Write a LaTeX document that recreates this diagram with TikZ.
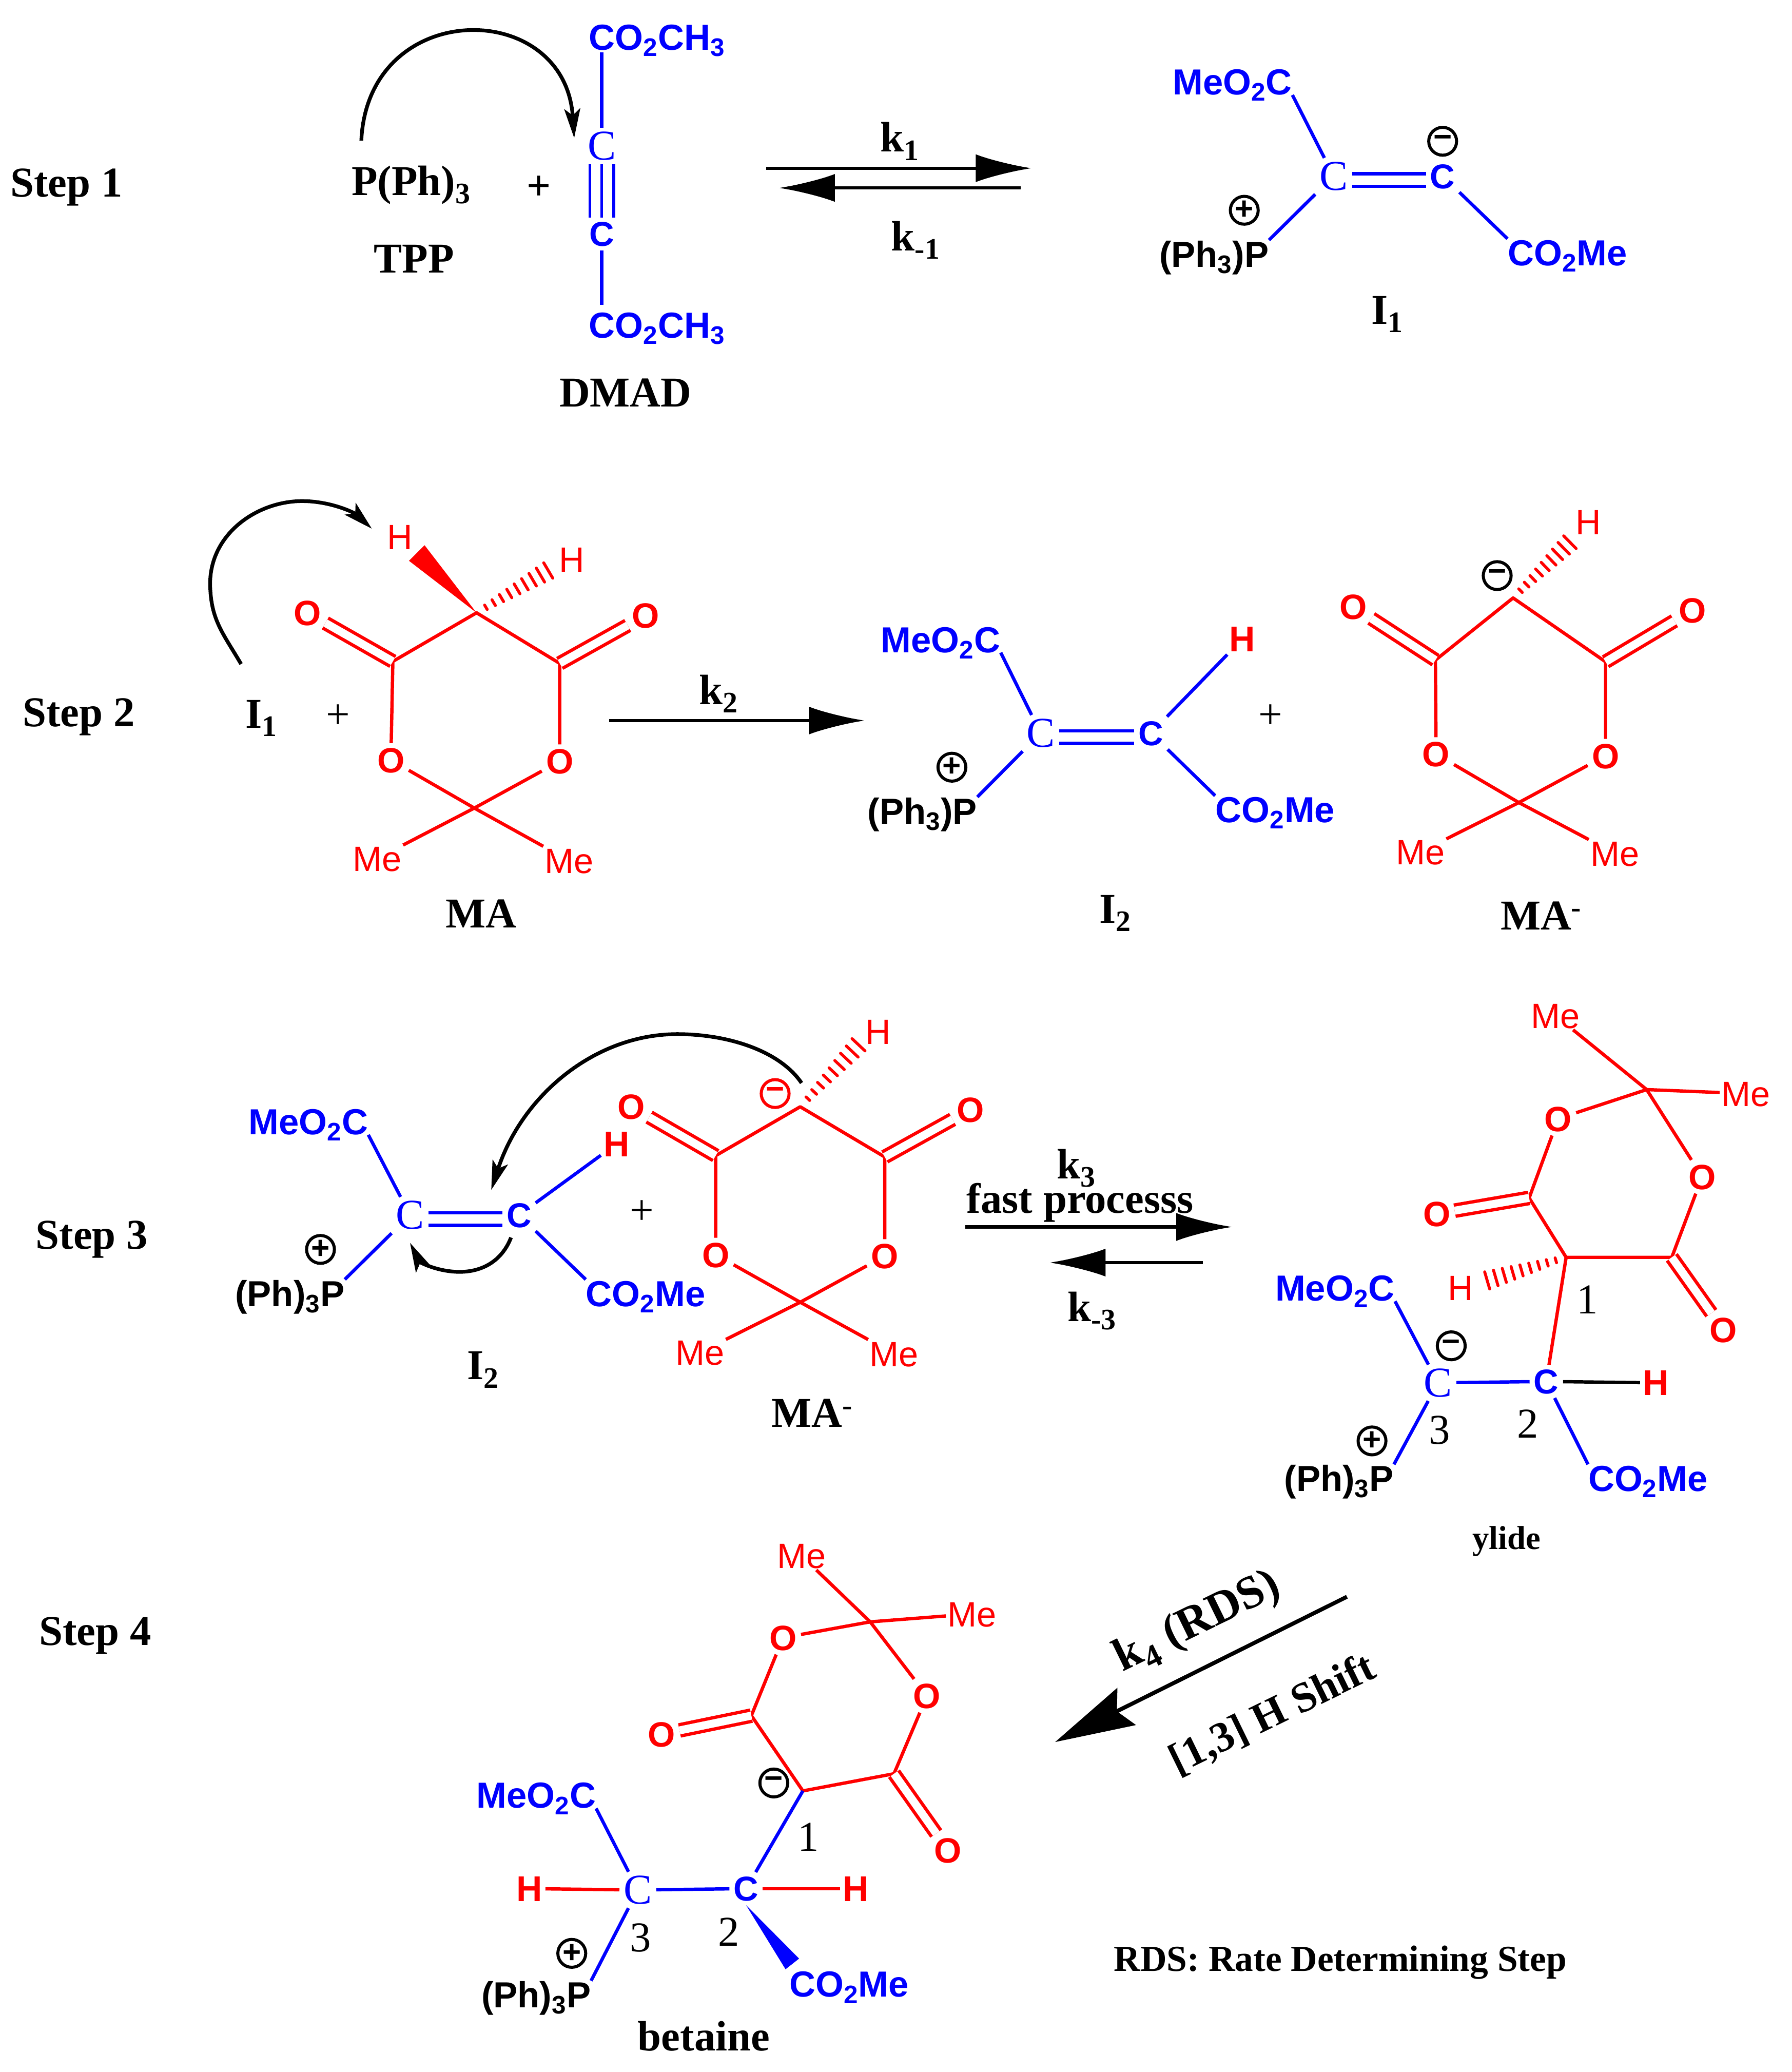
\documentclass[tikz,border=0pt]{standalone}
\usepackage{fontspec}
\setmainfont{Liberation Serif}
\setsansfont{Liberation Sans}
\usetikzlibrary{arrows.meta,calc}
\newcommand{\fz}[1]{\fontsize{#1}{#1}\selectfont}
\newcommand{\hashb}[2]{\foreach \t in {0.12,0.22,...,1.0} {\draw[red,line width=2.2pt,line cap=round] ($(#1)!\t!(#2)!{(1.2+\t*6)*1pt}!90:(#2)$) -- ($(#1)!\t!(#2)!{(1.2+\t*6)*1pt}!-90:(#2)$);}}
\newcommand{\wedgeb}[4]{\fill[#1] (#2) -- ($(#3)!#4!90:(#2)$) -- ($(#3)!#4!-90:(#2)$) -- cycle;}
\tikzset{
  lab/.style={font=\fz{32}\bfseries,inner sep=0pt,text height=21pt,text depth=0pt},
  grp/.style={text=blue,font=\fz{27.3}\sffamily\bfseries,inner sep=0pt,text height=20pt,text depth=0pt},
  blk/.style={grp,text=black},
  car/.style={text=blue,font=\fz{32},inner sep=3pt,text height=21pt,text depth=0pt},
  cbd/.style={text=blue,font=\fz{26}\sffamily\bfseries,inner sep=3pt,text height=18.5pt,text depth=0pt},
  oxy/.style={text=red,font=\fz{26.5}\sffamily\bfseries,inner sep=3pt,text height=19pt,text depth=0pt},
  hyd/.style={text=red,font=\fz{26.5}\sffamily,inner sep=2pt,text height=19pt,text depth=0pt},
  hyb/.style={hyd,font=\fz{27}\sffamily\bfseries},
  mee/.style={hyd,inner sep=1pt},
  num/.style={font=\fz{32},inner sep=0pt,text height=21pt,text depth=0pt},
  pls/.style={font=\fz{32},inner sep=0pt},
  chg/.style={circle,draw,line width=2.3pt,minimum size=21pt,inner sep=0pt,font=\fz{24}\sffamily\bfseries},
  bbd/.style={blue,line width=2.5pt},
  rbd/.style={red,line width=2.5pt,line join=round},
  dbl/.style={double,double distance=7pt,line width=2.5pt},
  rdb/.style={red,double,double distance=6pt,line width=2.5pt},
  rxn/.style={line width=2.4pt,-{Latex[length=42pt,width=21pt]}},
  cur/.style={line width=2.8pt,-{Stealth[length=22pt,width=12pt,inset=5pt]}}
}
\begin{document}
\begin{tikzpicture}[x=1pt,y=-1pt]
  \useasboundingbox (0,0) rectangle (1350,1561);

  % Step 1
  \begin{scope}[x=0.99pt,y=-0.99pt]
  \node[lab] (st1) at (50.5,139) {Step 1};
  \node[lab] (tpp) at (313,138) {P(Ph)\textsubscript{3}};
  \node[lab] (tppn) at (315,197) {TPP};
  \node[pls] (pl1) at (410,143) {\textbf{+}};
  \node[grp] (dt) at (500,28) {CO\textsubscript{2}CH\textsubscript{3}};
  \node[grp] (db) at (500,247) {CO\textsubscript{2}CH\textsubscript{3}};
  \node[car] (c1t) at (458,111) {C};
  \node[cbd] (c1b) at (458,178) {C};
  \node[lab] (dmad) at (476,299) {DMAD};
  \coordinate (ar1s) at (275,107);
  \coordinate (ar1e) at (437,105);
  \draw[bbd] (458,40) -- (c1t);
  \draw[bbd] (c1b) -- (458,232);
  \foreach \dx in {-9,0,9} {\draw[blue,line width=2pt] ([xshift=\dx pt]c1t.south) -- ([xshift=\dx pt]c1b.north);}
  \draw[cur] (ar1s) .. controls (280,-2) and (430,-2) .. (ar1e);
  \coordinate (eq1a) at (583,128);
  \coordinate (eq1b) at (785,128);
  \coordinate (eq1c) at (777,143);
  \coordinate (eq1d) at (593,143);
  \draw[rxn] (eq1a) -- (eq1b);
  \draw[rxn] (eq1c) -- (eq1d);
  \node[lab] (k1) at (685,105) {k\textsubscript{1}};
  \node[lab] (km1) at (697,180) {k\textsubscript{-1}};

  % I1
  \node[grp] (mo1) at (938,62) {MeO\textsubscript{2}C};
  \node[car] (ca1) at (1015,134) {C};
  \node[cbd] (cb1) at (1098,134) {C};
  \node[blk] (ph1) at (924,193) {(Ph\textsubscript{3})P};
  \node[grp] (co1) at (1193,192) {CO\textsubscript{2}Me};
  \node[chg] (mi1) at (1098,107.5) {−};
  \node[chg] (pl1c) at (947,160) {+};
  \node[lab] (i1) at (1056,236) {I\textsubscript{1}};
  \draw[bbd] (mo1.south east) -- (ca1);
  \draw[bbd] (ph1.north east) -- (ca1);
  \draw[bbd] (cb1) -- (co1.north west);
  \draw[blue,dbl] ([yshift=-3pt]ca1.east) -- ([yshift=-3pt]cb1.west);
  \end{scope}

  % Step 2
  \begin{scope}[x=0.99pt,y=-0.99pt,yshift=-2.3pt]
  \node[lab] (st2) at (60,540) {Step 2};
  \node[lab] (i1b) at (199,541) {I\textsubscript{1}};
  \node[pls] (pl2) at (257.5,543) {+};
  \coordinate (ar2s) at (183.5,503);
  \coordinate (ar2e) at (283,400);
  \draw[cur] (ar2s) .. controls (170,480) and (161,470) .. (160,445) .. controls (158,405) and (195,379) .. (230,379) .. controls (252,379) and (270,388) .. (ar2e);
  % MA
  \coordinate (ma) at (362.7,464);
  \coordinate (mal) at (299,501);
  \coordinate (mar) at (426,502.5);
  \coordinate (mab) at (361,612.6);
  \node[oxy] (mao1) at (234,464) {O};
  \node[oxy] (mao2) at (491.4,466) {O};
  \node[oxy] (mao3) at (297.5,576) {O};
  \node[oxy] (mao4) at (426,577) {O};
  \node[hyd] (mah1) at (304.4,406) {H};
  \node[hyd] (mah2) at (435,423.5) {H};
  \node[mee] (mam1) at (287,651) {Me};
  \node[mee] (mam2) at (433,652.5) {Me};
  \node[lab] (man) at (366,693) {MA};
  \coordinate (mawe) at (317.2,418.5);
  \coordinate (mahe) at (422,429);
  \draw[rbd] (mao3) -- (mal) -- (ma) -- (mar) -- (mao4);
  \draw[rbd] (mao3) -- (mab) -- (mam2);
  \draw[rbd] (mao4) -- (mab) -- (mam1);
  \draw[rdb] (mao1) -- (mal);
  \draw[rdb] (mao2) -- (mar);
  \wedgeb{red}{ma}{mawe}{8.3pt}
  \hashb{ma}{mahe}
  \coordinate (rx2a) at (463.6,546);
  \coordinate (rx2b) at (658,546);
  \draw[rxn] (rx2a) -- (rx2b);
  \node[lab] (k2) at (547,523) {k\textsubscript{2}};

  % I2
  \node[grp] (mo2) at (716,484) {MeO\textsubscript{2}C};
  \node[car] (ca2) at (792,555.6) {C};
  \node[cbd] (cb2) at (876,555.6) {C};
  \node[hyb] (hb2) at (945.5,484) {H};
  \node[blk] (ph2) at (702,614.5) {(Ph\textsubscript{3})P};
  \node[grp] (co2) at (970.5,613.5) {CO\textsubscript{2}Me};
  \node[chg] (pl2c) at (724.5,581.5) {+};
  \node[lab] (i2) at (849,689.5) {I\textsubscript{2}};
  \node[pls] (pl2b) at (967,543) {+};
  \draw[bbd] (mo2.south east) -- (ca2);
  \draw[bbd] (ph2.north east) -- (ca2);
  \draw[bbd] (cb2) -- (hb2);
  \draw[bbd] (cb2) -- (co2.north west);
  \draw[blue,dbl] ([yshift=-3pt]ca2.east) -- ([yshift=-3pt]cb2.west);

  % MA anion
  \coordinate (mb) at (1151.6,452.7);
  \coordinate (mbl) at (1092.5,500);
  \coordinate (mbr) at (1222,501.3);
  \coordinate (mbb) at (1156,608.4);
  \node[oxy] (mbo1) at (1030,459.4) {O};
  \node[oxy] (mbo2) at (1288,462) {O};
  \node[oxy] (mbo3) at (1093,571.5) {O};
  \node[oxy] (mbo4) at (1222,572.8) {O};
  \node[hyd] (mbh) at (1209,395) {H};
  \node[mee] (mbm1) at (1081,646) {Me};
  \node[mee] (mbm2) at (1229,647) {Me};
  \node[chg] (mbc) at (1139.5,435.7) {−};
  \node[lab] (mbn) at (1173,694.5) {MA\textsuperscript{-}};
  \coordinate (mbhe) at (1198.6,406.6);
  \draw[rbd] (mbo3) -- (mbl) -- (mb) -- (mbr) -- (mbo4);
  \draw[rbd] (mbo3) -- (mbb) -- (mbm2);
  \draw[rbd] (mbo4) -- (mbb) -- (mbm1);
  \draw[rdb] (mbo1) -- (mbl);
  \draw[rdb] (mbo2) -- (mbr);
  \hashb{mb}{mbhe}
  \end{scope}

  \begin{scope}[x=0.995pt,y=-0.995pt]
  % Step 3
  \node[lab] (st3) at (69.5,935) {Step 3};
  \node[grp] (mo3) at (233.5,849) {MeO\textsubscript{2}C};
  \node[car] (ca3) at (310.5,920) {C};
  \node[cbd] (cb3) at (393,920) {C};
  \node[hyb] (hb3) at (467,866) {H};
  \node[blk] (ph3) at (219.5,979) {(Ph)\textsubscript{3}P};
  \node[grp] (co3) at (489,979) {CO\textsubscript{2}Me};
  \node[chg] (pl3c) at (242.7,946) {+};
  \node[lab] (i2b) at (366,1034) {I\textsubscript{2}};
  \node[pls] (pl3) at (486,918) {+};
  \draw[bbd] (mo3.south east) -- (ca3);
  \draw[bbd] (ph3.north east) -- (ca3);
  \draw[bbd] (cb3) -- (hb3);
  \draw[bbd] (cb3) -- (co3.north west);
  \draw[blue,dbl] ([yshift=-3pt]ca3.east) -- ([yshift=-3pt]cb3.west);
  \coordinate (ar3s) at (387,937);
  \coordinate (ar3e) at (310.5,941);
  \draw[cur] (ar3s) .. controls (380,955) and (365,963) .. (348,963) .. controls (332,963) and (318,956) .. (ar3e);
  \coordinate (ar4s) at (607,820);
  \coordinate (ar4e) at (372,901);
  \draw[cur] (ar4s) .. controls (590,795) and (550,783) .. (513,783) .. controls (450,783) and (395,830) .. (ar4e);
  % MA anion again
  \coordinate (mc) at (606,838);
  \coordinate (mcl) at (542,875);
  \coordinate (mcr) at (670,876);
  \coordinate (mcb) at (606,986);
  \node[oxy] (mco1) at (478,838) {O};
  \node[oxy] (mco2) at (735,840) {O};
  \node[oxy] (mco3) at (542,950) {O};
  \node[oxy] (mco4) at (670,951) {O};
  \node[hyd] (mch) at (665,781) {H};
  \node[mee] (mcm1) at (530,1024) {Me};
  \node[mee] (mcm2) at (677,1025) {Me};
  \node[chg,draw=red,text=red] (mcc) at (587,828) {−};
  \node[lab] (mcn) at (615,1070) {MA\textsuperscript{-}};
  \coordinate (mche) at (654,787);
  \draw[rbd] (mco3) -- (mcl) -- (mc) -- (mcr) -- (mco4);
  \draw[rbd] (mco3) -- (mcb) -- (mcm2);
  \draw[rbd] (mco4) -- (mcb) -- (mcm1);
  \draw[rdb] (mco1) -- (mcl);
  \draw[rdb] (mco2) -- (mcr);
  \hashb{mc}{mche}
  \coordinate (rx3a) at (731,929);
  \coordinate (rx3b) at (933,929);
  \coordinate (rx3c) at (911,956);
  \coordinate (rx3d) at (795,956);
  \draw[rxn] (rx3a) -- (rx3b);
  \draw[rxn] (rx3c) -- (rx3d);
  \node[lab] (k3) at (815,882) {k\textsubscript{3}};
  \node[lab] (fast) at (818,908) {fast processs};
  \node[lab] (km3) at (827,990) {k\textsubscript{-3}};

  % ylide
  \coordinate (yt) at (1247,825);
  \coordinate (yl) at (1158,907);
  \coordinate (yr) at (1266,952);
  \coordinate (ych) at (1186,952);
  \node[oxy] (yo1) at (1180,847) {O};
  \node[oxy] (yo2) at (1289,891) {O};
  \node[oxy] (yo3) at (1088,919) {O};
  \node[oxy] (yo4) at (1305,1007) {O};
  \node[mee] (ym1) at (1178,769) {Me};
  \node[mee] (ym2) at (1322,828) {Me};
  \node[hyd] (yh) at (1106,975) {H};
  \node[car] (yc3) at (1089,1047) {C};
  \node[cbd] (yc2) at (1171,1046) {C};
  \node[hyb] (yh2) at (1254,1047) {H};
  \node[grp] (ymo) at (1011,975) {MeO\textsubscript{2}C};
  \node[blk] (yph) at (1014,1119) {(Ph)\textsubscript{3}P};
  \node[grp] (yco) at (1248,1119) {CO\textsubscript{2}Me};
  \node[chg] (ymi) at (1099,1019) {−};
  \node[chg] (ypl) at (1039,1091) {+};
  \node[num] (yn1) at (1202,984) {1};
  \node[num] (yn2) at (1157,1078) {2};
  \node[num] (yn3) at (1090,1083) {3};
  \node[lab,font=\fz{25}\bfseries,text height=16pt] (ylb) at (1141,1165) {ylide};
  \coordinate (yhe) at (1121,971);
  \draw[rbd] (yt) -- (yo1) -- (yl) -- (ych) -- (yr) -- (yo2) -- (yt);
  \draw[rbd] (yt) -- (ym1);
  \draw[rbd] (yt) -- (ym2);
  \draw[rdb] (yo3) -- (yl);
  \draw[rdb] (yo4) -- (yr);
  \draw[rbd] (ych) -- (yc2);
  \hashb{ych}{yhe}
  \draw[bbd] (yc3) -- (yc2);
  \draw[line width=2.5pt] (yc2) -- (yh2);
  \draw[bbd] (ymo.south east) -- (yc3);
  \draw[bbd] (yph.north east) -- (yc3);
  \draw[bbd] (yc2) -- (yco.north west);

  % Step 4
  \coordinate (rx4a) at (1020,1209);
  \coordinate (rx4b) at (799,1319);
  \draw[line width=3pt,-{Stealth[length=60pt,width=31pt,inset=8pt]}] (rx4a) -- (rx4b);
  \node[lab,font=\fz{35}\bfseries,rotate=26] (k4) at (906,1227) {k\textsubscript{4} (RDS)};
  \node[lab,rotate=26] (h13) at (963,1297) {[1,3] H Shift};
  \node[lab] (st4) at (72,1235) {Step 4};
  \node[lab,font=\fz{27.6}\bfseries] (rds) at (1015,1482) {RDS: Rate Determining Step};

  % betaine
  \coordinate (bt) at (659,1228);
  \coordinate (bl) at (569,1299);
  \coordinate (br) at (677,1343);
  \coordinate (bch) at (608,1356);
  \node[oxy] (bo1) at (593,1240) {O};
  \node[oxy] (bo2) at (702,1284) {O};
  \node[oxy] (bo3) at (501,1313) {O};
  \node[oxy] (bo4) at (718,1401) {O};
  \node[mee] (bm1) at (607,1178) {Me};
  \node[mee] (bm2) at (736,1222) {Me};
  \node[car] (bc3) at (483,1431) {C};
  \node[cbd] (bc2) at (565,1430) {C};
  \node[hyb] (bh1) at (401,1430) {H};
  \node[hyb] (bh2) at (648,1430) {H};
  \node[grp] (bmo) at (406,1359) {MeO\textsubscript{2}C};
  \node[blk] (bph) at (406,1510) {(Ph)\textsubscript{3}P};
  \node[grp] (bco) at (643,1502) {CO\textsubscript{2}Me};
  \node[chg] (bmi) at (586,1350) {−};
  \node[chg] (bpl) at (433,1479) {+};
  \node[num] (bn1) at (612,1391) {1};
  \node[num] (bn2) at (552,1463) {2};
  \node[num] (bn3) at (485,1467) {3};
  \node[lab] (bet) at (533,1542) {betaine};
  \coordinate (bwe) at (600,1487);
  \draw[rbd] (bt) -- (bo1) -- (bl) -- (bch);
  \draw[rbd] (bch) -- (br) -- (bo2) -- (bt);
  \draw[rbd] (bt) -- (bm1);
  \draw[rbd] (bt) -- (bm2);
  \draw[rdb] (bo3) -- (bl);
  \draw[rdb] (bo4) -- (br);
  \draw[bbd] (bch) -- (bc2);
  \draw[bbd] (bc3) -- (bc2);
  \draw[rbd] (bh1) -- (bc3);
  \draw[rbd] (bc2) -- (bh2);
  \draw[bbd] (bmo.south east) -- (bc3);
  \draw[bbd] (bph.north east) -- (bc3);
  \wedgeb{blue}{bc2.south}{bwe}{6.5pt}
  \end{scope}
\end{tikzpicture}
\end{document}
